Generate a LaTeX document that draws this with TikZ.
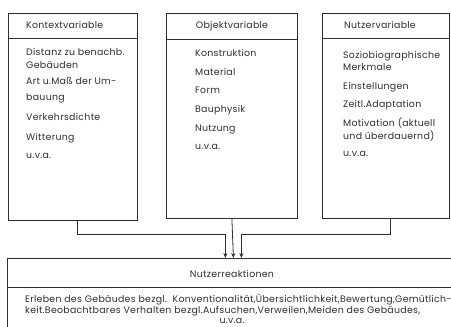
\documentclass[tikz,border=0pt]{standalone}
\usepackage{fontspec}
\setmainfont{Poppins}[LetterSpace=3]
\usetikzlibrary{arrows.meta}
\definecolor{ink}{HTML}{2E2E2E}

\begin{document}
\begin{tikzpicture}[x=1pt,y=-1pt,
  box/.style={draw=ink, line width=0.8pt, anchor=north west, inner sep=0pt},
  txt/.style={anchor=base west, inner sep=0pt, text=ink, font=\fontsize{9.4}{11}\selectfont},
  head/.style={txt, anchor=base},
  arr/.style={draw=ink, line width=0.8pt, -{Stealth[length=5pt,width=4pt]}}]
\useasboundingbox (0,0) rectangle (451,327);
\clip (0,0) rectangle (451,327);

% die drei Variablenkaesten
\node[box, minimum width=129pt, minimum height=207pt] (kontext) at (8,13) {};
\node[box, minimum width=131pt, minimum height=205pt] (objekt) at (166,13) {};
\node[box, minimum width=127pt, minimum height=205pt] (nutzer) at (322,13) {};
\node[box, minimum width=452pt, minimum height=90pt] (reaktion) at (7,258) {};

\draw[ink, line width=0.8pt] (8,38) -- (137,38) (166,39) -- (297,39) (322,38) -- (449,38)
  (7,287) -- (459,287);

\node[txt] (kh) at (26,28) {Kontextvariable};
\node[head] (oh) at (232,28) {Objektvariable};
\node[txt] (nh) at (344,28) {Nutzervariable};
\node[head] (rh) at (232,277) {Nutzerreaktionen};

\foreach \y/\t [count=\i] in {55/Distanz zu benachb., 68/Gebäuden, 84/Art u.Maß der Um-,
    100/bauung, 120/Verkehrsdichte, 140/Witterung, 158/u.v.a.}
  \node[txt] (kv\i) at (26,\y) {\t};

\foreach \y/\t [count=\i] in {56/Konstruktion, 75/Material, 93/Form,
    112/Bauphysik, 131/Nutzung, 149/u.v.a.}
  \node[txt] (ov\i) at (195,\y) {\t};

\foreach \y/\t [count=\i] in {58/Soziobiographische, 70/Merkmale, 89/Einstellungen,
    107/Zeitl.Adaptation, 126/Motivation (aktuell, 139/und überdauernd), 156/u.v.a.}
  \node[txt] (nv\i) at (343,\y) {\t};

\node[txt] (r1) at (25,302) {Erleben des Gebäudes bezgl.\ \ Konventionalität,Übersichtlichkeit,Bewertung,Gemütlich-};
\node[txt] (r2) at (25,313) {keit.Beobachtbares Verhalten bezgl.Aufsuchen,Verweilen,Meiden des Gebäudes,};
\node[head] (r3) at (232,323) {u.v.a.};

% Verbindungen
\draw[arr] ([xshift=4pt]kontext.south) -- ++(0,14) -| ([xshift=-8pt]reaktion.north);
\draw[arr] (objekt.south) -- (reaktion.north);
\draw[arr] ([xshift=4pt]nutzer.south) -- ++(0,16) -| ([xshift=8pt]reaktion.north);
\end{tikzpicture}
\end{document}
